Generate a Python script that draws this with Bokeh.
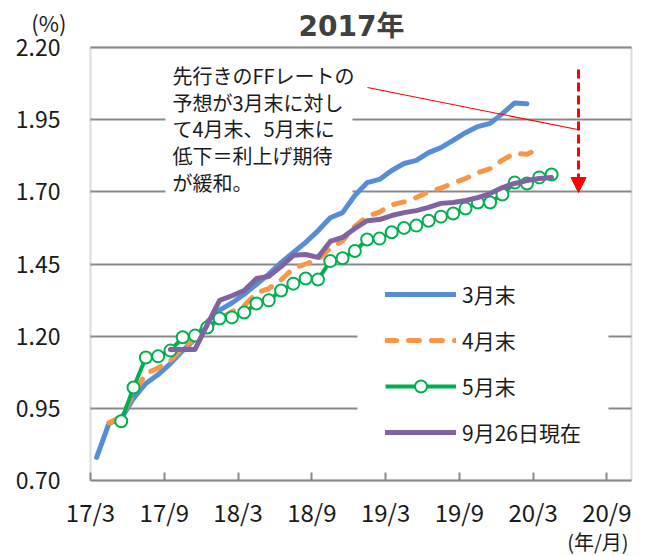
from bokeh.plotting import figure
from bokeh.models import (Range1d, FixedTicker, NumeralTickFormatter, Label, Legend,
                          LegendItem, Arrow, NormalHead, ColumnDataSource, BoxAnnotation, Grid)
from bokeh.embed import file_html
from bokeh.resources import INLINE

# ---------------- data ----------------
title_text = "2017年"
x_tick_labels = ["17/3", "17/9", "18/3", "18/9", "19/3", "19/9", "20/3", "20/9"]
y_ticks = [0.70, 0.95, 1.20, 1.45, 1.70, 1.95, 2.20]

series_names = ["3月末", "4月末", "5月末", "9月26日現在"]

# first contract month of each curve (year, month)
mar_start = (2017, 3)
apr_start = (2017, 4)
may_start = (2017, 5)
sep_start = (2017, 9)

mar_vals = [0.78, 0.898, 0.915, 0.984, 1.036, 1.067, 1.105, 1.15, 1.19, 1.25, 1.29, 1.315,
            1.345, 1.38, 1.415, 1.455, 1.49, 1.525, 1.565, 1.61, 1.628, 1.687, 1.732, 1.743,
            1.774, 1.798, 1.809, 1.836, 1.853, 1.878, 1.905, 1.926, 1.937, 1.971, 2.008, 2.005]
apr_vals = [0.90, 0.92, 1.00, 1.07, 1.09, 1.115, 1.16, 1.19, 1.225, 1.26, 1.285, 1.305,
            1.35, 1.365, 1.395, 1.435, 1.45, 1.465, 1.505, 1.53, 1.58, 1.615, 1.63, 1.655,
            1.665, 1.68, 1.70, 1.713, 1.73, 1.746, 1.766, 1.78, 1.81, 1.833, 1.83, 1.85]
may_vals = [0.905, 1.022, 1.126, 1.130, 1.150, 1.196, 1.202, 1.23, 1.261, 1.265, 1.282, 1.313,
            1.324, 1.358, 1.382, 1.40, 1.396, 1.46, 1.47, 1.495, 1.535, 1.538, 1.56, 1.575,
            1.583, 1.60, 1.614, 1.625, 1.642, 1.663, 1.663, 1.691, 1.732, 1.729, 1.75, 1.76]
sep_vals = [1.154, 1.154, 1.154, 1.24, 1.324, 1.34, 1.358, 1.40, 1.407, 1.441, 1.48, 1.483,
            1.473, 1.528, 1.542, 1.573, 1.60, 1.604, 1.618, 1.628, 1.635, 1.646, 1.66, 1.663,
            1.67, 1.68, 1.694, 1.715, 1.729, 1.739, 1.746, 1.75]

note_lines = ["先行きのFFレートの", "予想が3月末に対し", "て4月末、5月末に", "低下＝利上げ期待", "が緩和。"]
unit_y = "(%)"
unit_x = "(年/月)"

X_MIN, X_MAX = 0, 44          # months since 2017/3 shown inside the chart box
Y_MIN, Y_MAX = 0.70, 2.20


def month_x(start, n):
    """x position (months since 2017/3, mid-month) of n consecutive monthly contracts."""
    base = (start[0] - 2017) * 12 + (start[1] - 3)
    return [base + i + 0.5 for i in range(n)]


# ---------------- layout (page pixels) ----------------
W, H = 648, 556
BOX_L, BOX_R, BOX_T, BOX_B = 90, 631, 47, 480
sx = (BOX_R - BOX_L) / (X_MAX - X_MIN)
sy = (BOX_B - BOX_T) / (Y_MAX - Y_MIN)


def px_x(px):
    return X_MIN + (px - BOX_L) / sx


def px_y(py):
    return Y_MAX - (py - BOX_T) / sy


BLUE = "#558ED5"
ORANGE = "#F79646"
GREEN = "#00B050"
PURPLE = "#8064A2"
GRAY = "#898989"
TXT = "#1a1a1a"
JP = "Noto Sans CJK JP"

p = figure(width=W, height=H, output_backend="svg", toolbar_location=None, title=None,
           x_range=Range1d(px_x(0), px_x(W)), y_range=Range1d(px_y(H), px_y(0)),
           min_border_left=0, min_border_right=0, min_border_top=0, min_border_bottom=0,
           background_fill_color="white", border_fill_color="white")
p.outline_line_color = None

# x axis, drawn at the bottom of the chart box
p.xaxis.fixed_location = Y_MIN
p.xaxis.ticker = FixedTicker(ticks=[6 * i for i in range(len(x_tick_labels))])
p.xaxis.major_label_overrides = {6 * i: lab for i, lab in enumerate(x_tick_labels)}
p.xaxis.axis_line_color = None
p.xaxis.major_tick_in = 8
p.xaxis.major_tick_out = 0
p.xaxis.major_tick_line_color = GRAY
p.xaxis.major_tick_line_width = 2
p.xaxis.minor_tick_line_color = None
p.xaxis.major_label_standoff = 13
p.xaxis.major_label_text_font = JP
p.xaxis.major_label_text_font_size = "24px"
p.xaxis.major_label_text_color = TXT

# y axis, drawn at the left of the chart box
p.yaxis.fixed_location = X_MIN
p.yaxis.ticker = FixedTicker(ticks=y_ticks)
p.yaxis.formatter = NumeralTickFormatter(format="0.00")
p.yaxis.axis_line_color = None
p.yaxis.major_tick_line_color = None
p.yaxis.minor_tick_line_color = None
p.yaxis.major_label_standoff = 24
p.yaxis.major_label_text_font = JP
p.yaxis.major_label_text_font_size = "23px"
p.yaxis.major_label_text_color = TXT

# horizontal grid lines limited to the chart box
p.xgrid.visible = False
if "cross_bounds" in Grid.properties():
    p.ygrid.ticker = FixedTicker(ticks=y_ticks)
    p.ygrid.cross_bounds = (X_MIN, X_MAX)
    p.ygrid.grid_line_color = GRAY
    p.ygrid.grid_line_width = 2
else:
    p.ygrid.visible = False
    p.segment(x0=[X_MIN] * len(y_ticks), x1=[X_MAX] * len(y_ticks), y0=y_ticks, y1=y_ticks,
              line_color=GRAY, line_width=2)

# white backgrounds behind the note and the legend (hide grid lines there)
p.quad(left=[px_x(165), px_x(357)], right=[px_x(352), px_x(608)],
       bottom=[px_y(200), px_y(462)], top=[px_y(52), px_y(268)],
       fill_color="white", line_color=None)

# series
r_mar = p.line(month_x(mar_start, len(mar_vals)), mar_vals, line_color=BLUE, line_width=5,
               line_join="round", line_cap="round")
r_apr = p.line(month_x(apr_start, len(apr_vals)), apr_vals, line_color=ORANGE, line_width=5,
               line_dash="11 12", line_join="round", line_cap="round")
may_src = ColumnDataSource(dict(x=month_x(may_start, len(may_vals)), y=may_vals))
r_may_l = p.line("x", "y", source=may_src, line_color=GREEN, line_width=4, line_join="round")
r_may_m = p.scatter("x", "y", source=may_src, marker="circle", size=12, fill_color="white",
                    line_color=GREEN, line_width=2)
r_sep = p.line(month_x(sep_start, len(sep_vals)), sep_vals, line_color=PURPLE, line_width=5,
               line_join="round", line_cap="round")

# chart box
p.add_layout(BoxAnnotation(left=X_MIN, right=X_MAX, bottom=Y_MIN, top=Y_MAX,
                           fill_alpha=0, line_color=GRAY, line_width=2))

legend = Legend(items=[LegendItem(label=series_names[0], renderers=[r_mar]),
                       LegendItem(label=series_names[1], renderers=[r_apr]),
                       LegendItem(label=series_names[2], renderers=[r_may_l, r_may_m]),
                       LegendItem(label=series_names[3], renderers=[r_sep])],
                location=(385, H - 447), margin=0, padding=10, spacing=16,
                glyph_width=71, glyph_height=30, label_height=30, label_standoff=6,
                background_fill_color="white", background_fill_alpha=1.0,
                border_line_color=None,
                label_text_font=JP, label_text_font_size="21px",
                label_text_color=TXT)
p.add_layout(legend)

# red pointer line and dashed arrow
p.add_layout(Arrow(end=None, x_start=px_x(367), y_start=px_y(87),
                   x_end=px_x(577), y_end=px_y(129), line_color="red", line_width=1.2))
p.add_layout(Arrow(end=NormalHead(size=15, fill_color="red", line_color="red", line_width=1),
                   x_start=px_x(578), y_start=px_y(69), x_end=px_x(578), y_end=px_y(192),
                   line_color="red", line_width=3, line_dash="9 4"))

# note text
for i, t in enumerate(note_lines):
    p.add_layout(Label(x=172, y=H - (75 + 26.7 * i), x_units="screen", y_units="screen", text=t,
                       text_baseline="middle", text_align="left",
                       text_font=JP, text_font_size="20px", text_color=TXT))

# title and unit labels
p.add_layout(Label(x=351, y=H - 26, x_units="screen", y_units="screen", text=title_text,
                   text_align="center", text_baseline="middle",
                   text_font="DejaVu Sans, Noto Sans CJK JP", text_font_style="bold",
                   text_font_size="28px", text_color="#404040"))
p.add_layout(Label(x=66, y=H - 21, x_units="screen", y_units="screen", text=unit_y,
                   text_align="right", text_baseline="middle",
                   text_font=JP, text_font_size="22px", text_color=TXT))
p.add_layout(Label(x=628, y=1, x_units="screen", y_units="screen", text=unit_x,
                   text_align="right", text_baseline="bottom",
                   text_font=JP, text_font_size="20px", text_color=TXT))

open("out.html", "w").write(file_html(p, INLINE))
